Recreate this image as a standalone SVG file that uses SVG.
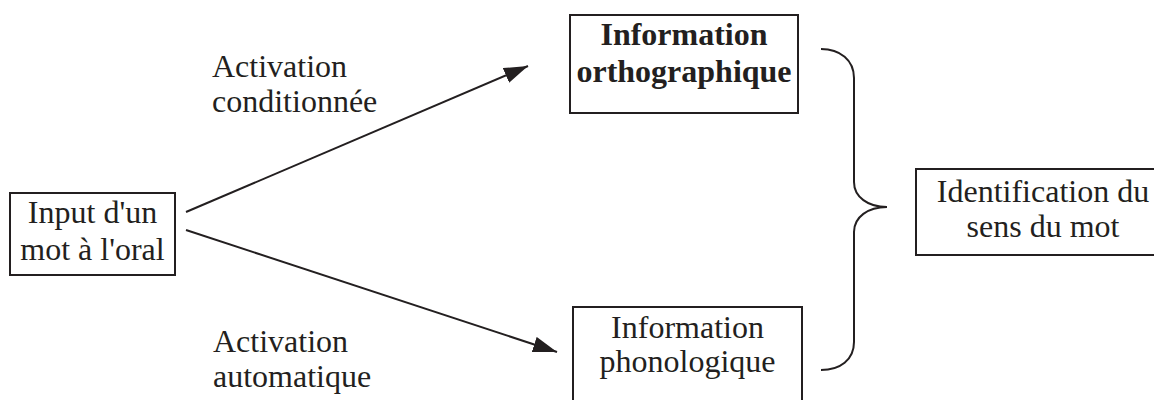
<svg xmlns="http://www.w3.org/2000/svg" width="1154" height="400" viewBox="0 0 1154 400">
<style>
  .box { fill: #ffffff; stroke: #231f20; stroke-width: 2; }
  .t { font-family: "Liberation Serif", "Times New Roman", serif; font-size: 32px; fill: #231f20; }
  .b { font-weight: bold; }
  .m { text-anchor: middle; }
  .conn { fill: none; stroke: #231f20; stroke-width: 2; }
</style>
<defs>
  <marker id="arrow" markerUnits="userSpaceOnUse" markerWidth="26" markerHeight="16" refX="24" refY="8" orient="auto">
    <path d="M0,0 L24,8 L0,16 Z" fill="#231f20"/>
  </marker>
</defs>
<rect width="1154" height="400" fill="#ffffff"/>

<g id="connectors">
  <line class="conn" x1="186" y1="212" x2="528" y2="66" marker-end="url(#arrow)"/>
  <line class="conn" x1="186" y1="230" x2="557" y2="352" marker-end="url(#arrow)"/>
  <path class="conn" d="M821,49 C840,49 854,60 854,78 L854,182 C854,197 868,207 887,207 C868,207 854,217 854,232 L854,342 C854,360 840,370 821,370"/>
</g>

<g id="label-conditionnee">
  <text class="t" x="212" y="77">Activation</text>
  <text class="t" x="212" y="112">conditionnée</text>
</g>
<g id="label-automatique">
  <text class="t" x="213" y="352">Activation</text>
  <text class="t" x="213" y="387">automatique</text>
</g>

<g id="node-input">
  <rect class="box" x="10" y="193" width="165" height="82"/>
  <text class="t m" x="92.5" y="223">Input d'un</text>
  <text class="t m" x="92.5" y="260">mot à l'oral</text>
</g>

<g id="node-orthographique">
  <rect class="box" x="570" y="15" width="228" height="98"/>
  <text class="t b m" x="684" y="45">Information</text>
  <text class="t b m" x="684" y="82">orthographique</text>
</g>

<g id="node-phonologique">
  <rect class="box" x="573" y="307" width="229" height="110"/>
  <text class="t m" x="687.5" y="338">Information</text>
  <text class="t m" x="687.5" y="372">phonologique</text>
</g>

<g id="node-identification">
  <rect class="box" x="916" y="169" width="260" height="86"/>
  <text class="t m" x="1043" y="202">Identification du</text>
  <text class="t m" x="1043" y="237">sens du mot</text>
</g>
</svg>
